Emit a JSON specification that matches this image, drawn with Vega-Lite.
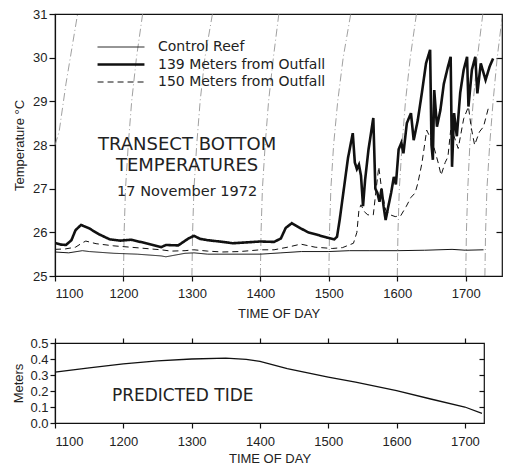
{
  "$schema": "https://vega.github.io/schema/vega-lite/v6.json",
  "background": "white",
  "padding": {"left": 12, "top": 7, "right": 4, "bottom": 0},
  "config": {
    "view": {"stroke": "#111", "strokeWidth": 1.2},
    "axis": {"labelFont": "Liberation Sans", "labelFontSize": 13, "labelColor": "#222", "titleFont": "Liberation Sans", "titleFontSize": 13, "titleFontWeight": "normal", "titleColor": "#222", "domainColor": "#111", "tickColor": "#111", "grid": false, "domainWidth": 1.2, "tickWidth": 1.2},
    "concat": {"spacing": 15}
  },
  "datasets": {
    "temp": [
      {"t":1100,"v":25.55,"s":"Control Reef"},{"t":1120,"v":25.53,"s":"Control Reef"},{"t":1140,"v":25.58,"s":"Control Reef"},{"t":1150,"v":25.56,"s":"Control Reef"},{"t":1186,"v":25.52,"s":"Control Reef"},{"t":1220,"v":25.5,"s":"Control Reef"},{"t":1255,"v":25.46,"s":"Control Reef"},{"t":1262,"v":25.44,"s":"Control Reef"},{"t":1290,"v":25.52,"s":"Control Reef"},{"t":1303,"v":25.53,"s":"Control Reef"},{"t":1323,"v":25.5,"s":"Control Reef"},{"t":1360,"v":25.5,"s":"Control Reef"},{"t":1400,"v":25.5,"s":"Control Reef"},{"t":1430,"v":25.53,"s":"Control Reef"},{"t":1460,"v":25.56,"s":"Control Reef"},{"t":1500,"v":25.56,"s":"Control Reef"},{"t":1530,"v":25.58,"s":"Control Reef"},{"t":1560,"v":25.58,"s":"Control Reef"},{"t":1600,"v":25.58,"s":"Control Reef"},{"t":1640,"v":25.59,"s":"Control Reef"},{"t":1680,"v":25.61,"s":"Control Reef"},{"t":1700,"v":25.59,"s":"Control Reef"},{"t":1726,"v":25.6,"s":"Control Reef"},
      {"t":1100,"v":25.76,"s":"139 Meters from Outfall"},{"t":1108,"v":25.72,"s":"139 Meters from Outfall"},{"t":1116,"v":25.71,"s":"139 Meters from Outfall"},{"t":1124,"v":25.82,"s":"139 Meters from Outfall"},{"t":1130,"v":26.05,"s":"139 Meters from Outfall"},{"t":1138,"v":26.17,"s":"139 Meters from Outfall"},{"t":1150,"v":26.09,"s":"139 Meters from Outfall"},{"t":1165,"v":25.95,"s":"139 Meters from Outfall"},{"t":1180,"v":25.84,"s":"139 Meters from Outfall"},{"t":1195,"v":25.81,"s":"139 Meters from Outfall"},{"t":1211,"v":25.83,"s":"139 Meters from Outfall"},{"t":1225,"v":25.78,"s":"139 Meters from Outfall"},{"t":1240,"v":25.72,"s":"139 Meters from Outfall"},{"t":1255,"v":25.66,"s":"139 Meters from Outfall"},{"t":1262,"v":25.71,"s":"139 Meters from Outfall"},{"t":1280,"v":25.7,"s":"139 Meters from Outfall"},{"t":1295,"v":25.86,"s":"139 Meters from Outfall"},{"t":1303,"v":25.92,"s":"139 Meters from Outfall"},{"t":1312,"v":25.85,"s":"139 Meters from Outfall"},{"t":1323,"v":25.82,"s":"139 Meters from Outfall"},{"t":1340,"v":25.79,"s":"139 Meters from Outfall"},{"t":1360,"v":25.75,"s":"139 Meters from Outfall"},{"t":1380,"v":25.77,"s":"139 Meters from Outfall"},{"t":1400,"v":25.79,"s":"139 Meters from Outfall"},{"t":1420,"v":25.78,"s":"139 Meters from Outfall"},{"t":1430,"v":25.86,"s":"139 Meters from Outfall"},{"t":1437,"v":26.1,"s":"139 Meters from Outfall"},{"t":1446,"v":26.21,"s":"139 Meters from Outfall"},{"t":1459,"v":26.09,"s":"139 Meters from Outfall"},{"t":1470,"v":26.0,"s":"139 Meters from Outfall"},{"t":1484,"v":25.94,"s":"139 Meters from Outfall"},{"t":1497,"v":25.88,"s":"139 Meters from Outfall"},{"t":1508,"v":25.84,"s":"139 Meters from Outfall"},{"t":1512,"v":25.9,"s":"139 Meters from Outfall"},{"t":1516,"v":26.3,"s":"139 Meters from Outfall"},{"t":1522,"v":27.0,"s":"139 Meters from Outfall"},{"t":1528,"v":27.7,"s":"139 Meters from Outfall"},{"t":1535,"v":28.27,"s":"139 Meters from Outfall"},{"t":1538,"v":27.6,"s":"139 Meters from Outfall"},{"t":1541,"v":27.45,"s":"139 Meters from Outfall"},{"t":1544,"v":27.55,"s":"139 Meters from Outfall"},{"t":1547,"v":27.3,"s":"139 Meters from Outfall"},{"t":1550,"v":26.6,"s":"139 Meters from Outfall"},{"t":1553,"v":27.2,"s":"139 Meters from Outfall"},{"t":1558,"v":27.9,"s":"139 Meters from Outfall"},{"t":1565,"v":28.62,"s":"139 Meters from Outfall"},{"t":1568,"v":27.0,"s":"139 Meters from Outfall"},{"t":1571,"v":26.9,"s":"139 Meters from Outfall"},{"t":1574,"v":26.7,"s":"139 Meters from Outfall"},{"t":1577,"v":27.0,"s":"139 Meters from Outfall"},{"t":1580,"v":26.6,"s":"139 Meters from Outfall"},{"t":1583,"v":26.28,"s":"139 Meters from Outfall"},{"t":1587,"v":26.6,"s":"139 Meters from Outfall"},{"t":1591,"v":26.9,"s":"139 Meters from Outfall"},{"t":1595,"v":27.27,"s":"139 Meters from Outfall"},{"t":1598,"v":27.1,"s":"139 Meters from Outfall"},{"t":1602,"v":27.9,"s":"139 Meters from Outfall"},{"t":1606,"v":28.05,"s":"139 Meters from Outfall"},{"t":1609,"v":27.81,"s":"139 Meters from Outfall"},{"t":1614,"v":28.5,"s":"139 Meters from Outfall"},{"t":1620,"v":28.73,"s":"139 Meters from Outfall"},{"t":1624,"v":28.11,"s":"139 Meters from Outfall"},{"t":1630,"v":28.57,"s":"139 Meters from Outfall"},{"t":1636,"v":29.2,"s":"139 Meters from Outfall"},{"t":1642,"v":29.87,"s":"139 Meters from Outfall"},{"t":1648,"v":30.18,"s":"139 Meters from Outfall"},{"t":1650,"v":28.0,"s":"139 Meters from Outfall"},{"t":1652,"v":27.66,"s":"139 Meters from Outfall"},{"t":1654,"v":29.26,"s":"139 Meters from Outfall"},{"t":1658,"v":28.42,"s":"139 Meters from Outfall"},{"t":1663,"v":28.8,"s":"139 Meters from Outfall"},{"t":1668,"v":29.4,"s":"139 Meters from Outfall"},{"t":1674,"v":29.79,"s":"139 Meters from Outfall"},{"t":1678,"v":30.02,"s":"139 Meters from Outfall"},{"t":1680,"v":27.5,"s":"139 Meters from Outfall"},{"t":1683,"v":28.73,"s":"139 Meters from Outfall"},{"t":1687,"v":28.2,"s":"139 Meters from Outfall"},{"t":1692,"v":29.2,"s":"139 Meters from Outfall"},{"t":1697,"v":29.72,"s":"139 Meters from Outfall"},{"t":1702,"v":30.02,"s":"139 Meters from Outfall"},{"t":1704,"v":28.88,"s":"139 Meters from Outfall"},{"t":1709,"v":29.72,"s":"139 Meters from Outfall"},{"t":1714,"v":30.02,"s":"139 Meters from Outfall"},{"t":1717,"v":29.18,"s":"139 Meters from Outfall"},{"t":1722,"v":29.87,"s":"139 Meters from Outfall"},{"t":1729,"v":29.49,"s":"139 Meters from Outfall"},{"t":1735,"v":29.8,"s":"139 Meters from Outfall"},{"t":1740,"v":29.98,"s":"139 Meters from Outfall"},
      {"t":1100,"v":25.61,"s":"150 Meters from Outfall"},{"t":1115,"v":25.62,"s":"150 Meters from Outfall"},{"t":1130,"v":25.66,"s":"150 Meters from Outfall"},{"t":1140,"v":25.76,"s":"150 Meters from Outfall"},{"t":1145,"v":25.8,"s":"150 Meters from Outfall"},{"t":1160,"v":25.74,"s":"150 Meters from Outfall"},{"t":1186,"v":25.69,"s":"150 Meters from Outfall"},{"t":1210,"v":25.66,"s":"150 Meters from Outfall"},{"t":1240,"v":25.62,"s":"150 Meters from Outfall"},{"t":1255,"v":25.6,"s":"150 Meters from Outfall"},{"t":1270,"v":25.57,"s":"150 Meters from Outfall"},{"t":1290,"v":25.58,"s":"150 Meters from Outfall"},{"t":1303,"v":25.6,"s":"150 Meters from Outfall"},{"t":1323,"v":25.57,"s":"150 Meters from Outfall"},{"t":1345,"v":25.55,"s":"150 Meters from Outfall"},{"t":1370,"v":25.56,"s":"150 Meters from Outfall"},{"t":1400,"v":25.6,"s":"150 Meters from Outfall"},{"t":1420,"v":25.6,"s":"150 Meters from Outfall"},{"t":1440,"v":25.66,"s":"150 Meters from Outfall"},{"t":1459,"v":25.73,"s":"150 Meters from Outfall"},{"t":1480,"v":25.66,"s":"150 Meters from Outfall"},{"t":1505,"v":25.63,"s":"150 Meters from Outfall"},{"t":1520,"v":25.65,"s":"150 Meters from Outfall"},{"t":1536,"v":25.75,"s":"150 Meters from Outfall"},{"t":1541,"v":26.0,"s":"150 Meters from Outfall"},{"t":1544,"v":26.51,"s":"150 Meters from Outfall"},{"t":1547,"v":26.63,"s":"150 Meters from Outfall"},{"t":1552,"v":26.47,"s":"150 Meters from Outfall"},{"t":1557,"v":26.4,"s":"150 Meters from Outfall"},{"t":1565,"v":26.4,"s":"150 Meters from Outfall"},{"t":1569,"v":26.97,"s":"150 Meters from Outfall"},{"t":1573,"v":27.5,"s":"150 Meters from Outfall"},{"t":1577,"v":27.0,"s":"150 Meters from Outfall"},{"t":1583,"v":26.51,"s":"150 Meters from Outfall"},{"t":1590,"v":26.4,"s":"150 Meters from Outfall"},{"t":1597,"v":26.36,"s":"150 Meters from Outfall"},{"t":1605,"v":26.38,"s":"150 Meters from Outfall"},{"t":1613,"v":26.59,"s":"150 Meters from Outfall"},{"t":1620,"v":26.8,"s":"150 Meters from Outfall"},{"t":1626,"v":26.9,"s":"150 Meters from Outfall"},{"t":1630,"v":27.12,"s":"150 Meters from Outfall"},{"t":1636,"v":27.58,"s":"150 Meters from Outfall"},{"t":1643,"v":28.34,"s":"150 Meters from Outfall"},{"t":1652,"v":28.04,"s":"150 Meters from Outfall"},{"t":1660,"v":27.58,"s":"150 Meters from Outfall"},{"t":1664,"v":27.31,"s":"150 Meters from Outfall"},{"t":1670,"v":27.6,"s":"150 Meters from Outfall"},{"t":1674,"v":27.73,"s":"150 Meters from Outfall"},{"t":1678,"v":28.34,"s":"150 Meters from Outfall"},{"t":1683,"v":28.2,"s":"150 Meters from Outfall"},{"t":1689,"v":27.92,"s":"150 Meters from Outfall"},{"t":1697,"v":28.6,"s":"150 Meters from Outfall"},{"t":1704,"v":28.88,"s":"150 Meters from Outfall"},{"t":1708,"v":28.4,"s":"150 Meters from Outfall"},{"t":1713,"v":28.0,"s":"150 Meters from Outfall"},{"t":1720,"v":28.3,"s":"150 Meters from Outfall"},{"t":1726,"v":28.42,"s":"150 Meters from Outfall"},{"t":1734,"v":28.9,"s":"150 Meters from Outfall"}
    ],
    "arcs": [
      {"t":1100,"v":28.0,"a":"A0"},{"t":1106,"v":28.3,"a":"A0"},{"t":1116,"v":29.4,"a":"A0"},{"t":1133,"v":31,"a":"A0"},
      {"t":1200,"v":25,"a":"A1"},{"t":1201,"v":26,"a":"A1"},{"t":1203,"v":27,"a":"A1"},{"t":1207,"v":28,"a":"A1"},{"t":1212,"v":29,"a":"A1"},{"t":1219,"v":30,"a":"A1"},{"t":1228,"v":31,"a":"A1"},
      {"t":1300,"v":25,"a":"A2"},{"t":1301,"v":26,"a":"A2"},{"t":1303,"v":27,"a":"A2"},{"t":1307,"v":28,"a":"A2"},{"t":1312,"v":29,"a":"A2"},{"t":1319,"v":30,"a":"A2"},{"t":1330,"v":31,"a":"A2"},
      {"t":1400,"v":25,"a":"A3"},{"t":1401,"v":26,"a":"A3"},{"t":1403,"v":27,"a":"A3"},{"t":1407,"v":28,"a":"A3"},{"t":1412,"v":29,"a":"A3"},{"t":1419,"v":30,"a":"A3"},{"t":1427,"v":31,"a":"A3"},
      {"t":1500,"v":25,"a":"A4"},{"t":1501,"v":26,"a":"A4"},{"t":1503,"v":27,"a":"A4"},{"t":1507,"v":28,"a":"A4"},{"t":1513,"v":29,"a":"A4"},{"t":1521,"v":30,"a":"A4"},{"t":1532,"v":31,"a":"A4"},
      {"t":1600,"v":25,"a":"A5"},{"t":1601,"v":26,"a":"A5"},{"t":1603,"v":27,"a":"A5"},{"t":1607,"v":28,"a":"A5"},{"t":1612,"v":29,"a":"A5"},{"t":1619,"v":30,"a":"A5"},{"t":1628,"v":31,"a":"A5"},
      {"t":1700,"v":25,"a":"A6"},{"t":1701,"v":26,"a":"A6"},{"t":1703,"v":27,"a":"A6"},{"t":1706,"v":28,"a":"A6"},{"t":1711,"v":29,"a":"A6"},{"t":1717,"v":30,"a":"A6"},{"t":1725,"v":31,"a":"A6"},
      {"t":1728,"v":25,"a":"A7"},{"t":1729,"v":26,"a":"A7"},{"t":1731,"v":27,"a":"A7"},{"t":1735,"v":28,"a":"A7"},{"t":1740,"v":29,"a":"A7"},{"t":1746,"v":30,"a":"A7"},{"t":1753,"v":30.9,"a":"A7"}
    ],
    "tide": [
      {"t":1100,"m":0.318},{"t":1150,"m":0.345},{"t":1200,"m":0.37},{"t":1250,"m":0.388},{"t":1300,"m":0.4},{"t":1350,"m":0.405},{"t":1380,"m":0.398},{"t":1400,"m":0.385},{"t":1440,"m":0.34},{"t":1500,"m":0.287},{"t":1540,"m":0.255},{"t":1600,"m":0.203},{"t":1650,"m":0.15},{"t":1700,"m":0.1},{"t":1725,"m":0.06}
    ]
  },
  "vconcat": [
    {
      "width": 447,
      "height": 262,
      "layer": [
        {
          "data": {"name": "arcs"},
          "mark": {"type": "line", "color": "#888", "strokeWidth": 0.8, "strokeDash": [8, 3, 1, 3], "clip": true},
          "encoding": {
            "x": {"field": "t", "type": "quantitative", "scale": {"domain": [1100, 1753], "nice": false, "zero": false}, "axis": {"orient": "bottom", "values": [1100, 1200, 1300, 1400, 1500, 1600, 1700], "format": "d", "title": "TIME OF DAY", "tickSize": 5, "labelPadding": 6, "titlePadding": 7}},
            "y": {"field": "v", "type": "quantitative", "scale": {"domain": [25, 31], "nice": false, "zero": false}, "axis": {"orient": "right", "labels": false, "domain": false, "tickSize": 6, "offset": -6, "values": [26, 27, 28, 29, 30], "title": null}},
            "detail": {"field": "a"},
            "order": {"field": "v"}
          }
        },
        {
          "data": {"name": "temp"},
          "mark": {"type": "line", "color": "#111", "clip": true},
          "encoding": {
            "x": {"field": "t", "type": "quantitative", "scale": {"domain": [1100, 1753], "nice": false, "zero": false}, "axis": {"orient": "bottom", "values": [1100, 1200, 1300, 1400, 1500, 1600, 1700], "format": "d", "title": "TIME OF DAY", "tickSize": 5, "labelPadding": 6, "titlePadding": 7}},
            "y": {"field": "v", "type": "quantitative", "scale": {"domain": [25, 31], "nice": false, "zero": false}, "axis": {"orient": "left", "values": [25, 26, 27, 28, 29, 30, 31], "title": "Temperature °C", "tickSize": 6, "labelPadding": 2, "titlePadding": 6}},
            "strokeWidth": {"field": "s", "type": "nominal", "scale": {"type": "ordinal", "domain": ["Control Reef", "139 Meters from Outfall", "150 Meters from Outfall"], "range": [1, 2.6, 1]},
              "legend": {"title": null, "orient": "none", "legendX": 41, "legendY": 25, "symbolType": "stroke", "symbolSize": 2200, "clipHeight": 16, "symbolStrokeColor": "#111", "labelFont": "DejaVu Sans", "labelFontSize": 14, "labelColor": "#222", "labelOffset": 12, "labelLimit": 300, "rowPadding": 1.5}},
            "strokeDash": {"field": "s", "type": "nominal", "scale": {"domain": ["Control Reef", "139 Meters from Outfall", "150 Meters from Outfall"], "range": [[1, 0], [1, 0], [6, 4]]},
              "legend": {"title": null, "orient": "none", "legendX": 41, "legendY": 25, "symbolType": "stroke", "symbolSize": 2200, "clipHeight": 16, "symbolStrokeColor": "#111", "labelFont": "DejaVu Sans", "labelFontSize": 14, "labelColor": "#222", "labelOffset": 12, "labelLimit": 300, "rowPadding": 1.5}}
          }
        },
        {
          "data": {"values": [{"t": 1293, "v": 28.0, "label": "TRANSECT BOTTOM"}, {"t": 1293, "v": 27.53, "label": "TEMPERATURES"}]},
          "mark": {"type": "text", "font": "DejaVu Sans", "fontSize": 18, "color": "#222"},
          "encoding": {
            "x": {"field": "t", "type": "quantitative", "scale": {"domain": [1100, 1753], "nice": false, "zero": false}, "axis": {"orient": "bottom", "values": [1100, 1200, 1300, 1400, 1500, 1600, 1700], "format": "d", "title": "TIME OF DAY", "tickSize": 5, "labelPadding": 6, "titlePadding": 7}},
            "y": {"field": "v", "type": "quantitative", "axis": null},
            "text": {"field": "label"}
          }
        },
        {
          "data": {"values": [{"t": 1293, "v": 26.93, "label": "17 November 1972"}]},
          "mark": {"type": "text", "font": "DejaVu Sans", "fontSize": 14.5, "color": "#222"},
          "encoding": {
            "x": {"field": "t", "type": "quantitative", "scale": {"domain": [1100, 1753], "nice": false, "zero": false}, "axis": {"orient": "bottom", "values": [1100, 1200, 1300, 1400, 1500, 1600, 1700], "format": "d", "title": "TIME OF DAY", "tickSize": 5, "labelPadding": 6, "titlePadding": 7}},
            "y": {"field": "v", "type": "quantitative", "axis": null},
            "text": {"field": "label"}
          }
        }
      ],
      "resolve": {"axis": {"x": "shared", "y": "independent"}}
    },
    {
      "width": 429,
      "height": 80,
      "layer": [
        {
          "data": {"name": "tide"},
          "mark": {"type": "line", "color": "#111", "strokeWidth": 1.3},
          "encoding": {
            "x": {"field": "t", "type": "quantitative", "scale": {"domain": [1100, 1728], "nice": false, "zero": false}, "axis": {"orient": "bottom", "values": [1100, 1200, 1300, 1400, 1500, 1600, 1700], "format": "d", "title": "TIME OF DAY", "tickSize": 5, "labelPadding": 7, "titlePadding": 4}},
            "y": {"field": "m", "type": "quantitative", "scale": {"domain": [0, 0.5], "nice": false}, "axis": {"orient": "left", "values": [0, 0.1, 0.2, 0.3, 0.4, 0.5], "format": ".1f", "title": "Meters", "tickSize": 5, "labelPadding": 2, "titlePadding": 4}}
          }
        },
        {
          "data": {"values": [{"t": 1287, "m": 0.171, "label": "PREDICTED TIDE"}]},
          "mark": {"type": "text", "font": "DejaVu Sans", "fontSize": 17, "color": "#222"},
          "encoding": {
            "x": {"field": "t", "type": "quantitative", "scale": {"domain": [1100, 1728], "nice": false, "zero": false}, "axis": {"orient": "top", "values": [1100, 1200, 1300, 1400, 1500, 1600, 1700], "labels": false, "domain": false, "tickSize": 5, "title": null}},
            "y": {"field": "m", "type": "quantitative", "scale": {"domain": [0, 0.5], "nice": false}, "axis": {"orient": "right", "values": [0.1, 0.2, 0.3, 0.4], "labels": false, "domain": false, "tickSize": 5, "offset": -5, "title": null}},
            "text": {"field": "label"}
          }
        }
      ],
      "resolve": {"axis": {"x": "independent", "y": "independent"}}
    }
  ]
}
